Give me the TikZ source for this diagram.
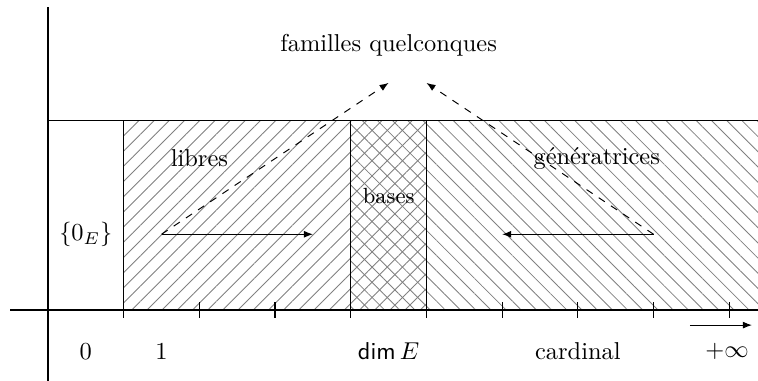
\documentclass[tikz,border=0pt]{standalone}
\usepackage{amsmath,amsfonts}
\usepackage{tikz}
\usetikzlibrary{arrows.meta,patterns.meta}

\begin{document}
\begin{tikzpicture}[
    x=1.09cm, y=1.09cm,
    axis/.style={draw, line width=0.5pt},
    hatchA/.style={pattern={Lines[angle=45, distance=4.4pt, line width=0.35pt]}, pattern color=gray},
    hatchB/.style={pattern={Lines[angle=-45, distance=4.4pt, line width=0.35pt]}, pattern color=gray},
    lbl/.style={inner sep=1pt},
    arr/.style={-{Latex[length=1.3mm, width=1mm]}},
    dasharr/.style={-{Latex[length=1.3mm, width=1mm]}, dashed}
]
\useasboundingbox (-0.634,-0.938) rectangle (9.38,4.095);

% hatched regions
\fill[hatchA] (1,0) rectangle (4,2.5);
\fill[hatchA] (4,0) rectangle (5,2.5);
\fill[hatchB] (4,0) rectangle (5,2.5);
\fill[hatchB] (5,0) rectangle (9.5,2.5);

% axes and borders
\draw[axis] (-0.5,0) -- (9.5,0);
\draw[axis] (0,-1) -- (0,4);
\draw[axis] (0,2.5) -- (9.5,2.5);
\foreach \xx in {1,4,5} \draw[axis] (\xx,0) -- (\xx,2.5);
\foreach \xx in {1,...,9} \draw[axis] (\xx,-0.1) -- (\xx,0.1);

\node[lbl] (zero) at (0.5,-0.55) {$0$};
\node[lbl] (one) at (1.5,-0.55) {$1$};
\node[lbl] (dim) at (4.5,-0.55) {\textsf{dim}\,$E$};
\node[lbl] (card) at (7,-0.55) {cardinal};
\node[lbl] (infty) at (8.97,-0.55) {$+\infty$};
\coordinate (infa) at (8.48,-0.2);
\coordinate (infb) at (9.3,-0.2);
\draw[arr] (infa) -- (infb);

\node[lbl] (nul) at (0.5,1) {$\{0_E\}$};
\node[lbl] (libres) at (2,2) {libres};
\node[lbl, font=\small] (bases) at (4.5,1.5) {bases};
\node[lbl] (gen) at (7.25,2) {génératrices};
\node[lbl] (quelc) at (4.5,3.5) {familles quelconques};

\coordinate (libA) at (1.5,1);
\coordinate (libB) at (3.5,1);
\coordinate (genA) at (8,1);
\coordinate (genB) at (6,1);
\coordinate (topL) at (4.5,3);
\coordinate (topR) at (5,3);
\draw[arr] (libA) -- (libB);
\draw[arr] (genA) -- (genB);
\draw[dasharr] (libA) -- (topL);
\draw[dasharr] (genA) -- (topR);
\end{tikzpicture}
\end{document}
